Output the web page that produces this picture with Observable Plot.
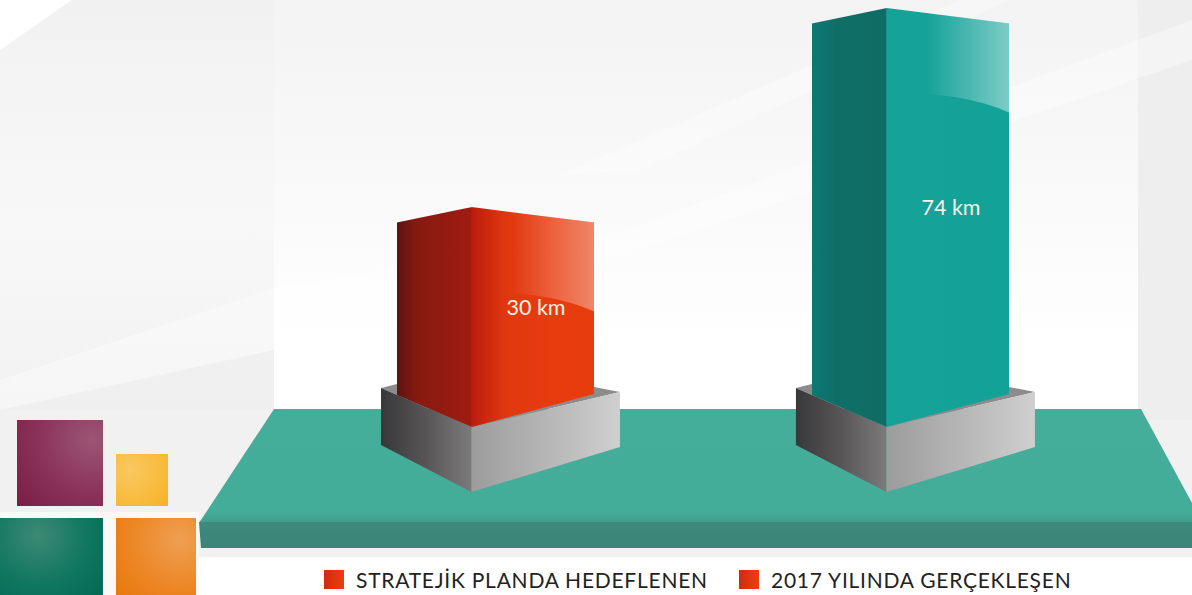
<!DOCTYPE html>
<html lang="tr">
<head>
<meta charset="utf-8">
<script src="https://cdn.jsdelivr.net/npm/d3@7"></script>
<script src="https://cdn.jsdelivr.net/npm/@observablehq/plot@0.6"></script>
<style>
html,body{margin:0;padding:0;background:#fff;overflow:hidden}
#chart{position:relative;width:1192px;height:595px}
#chart svg{display:block}
.legend{position:absolute;top:566px;left:0;height:27px;font:21px Lato,sans-serif;letter-spacing:.75px;color:#222;white-space:nowrap}
.legend span{position:absolute;top:0;line-height:27px}
.legend i{position:absolute;top:4px;width:20px;height:19px;background:linear-gradient(90deg,#d32a10,#ec3f0e)}
</style>
</head>
<body>
<div id="chart"></div>
<script>
const categories = ["STRATEJİK PLANDA HEDEFLENEN", "2017 YILINDA GERÇEKLEŞEN"];
const lengthsKm = [30, 74];
const unit = "km";
const barGradients = ["url(#redFace)", "url(#tealFace)"];
const hiddenBase = -18.6;   // the drawing's bars start below zero, inside the pedestal
const legendPositions = [[324, 356], [739, 771]];

const rows = categories.map((category, i) => ({category, km: lengthsKm[i], label: `${lengthsKm[i]} ${unit}`}));
const FONT = "Lato, sans-serif";

function poly(g, pts, fill, extra = {}) {
  const p = g.append("path").attr("d", "M" + pts.map(d => d.join(",")).join("L") + "Z").attr("fill", fill);
  for (const k in extra) p.attr(k, extra[k]);
  return p;
}
function linear(defs, id, x1, y1, x2, y2, stops) {
  const l = defs.append("linearGradient").attr("id", id).attr("gradientUnits", "userSpaceOnUse")
    .attr("x1", x1).attr("y1", y1).attr("x2", x2).attr("y2", y2);
  stops.forEach(([o, c, a = 1]) => l.append("stop").attr("offset", o).attr("stop-color", c).attr("stop-opacity", a));
}
function radial(defs, id, cx, cy, r, stops) {
  const l = defs.append("radialGradient").attr("id", id).attr("gradientUnits", "userSpaceOnUse")
    .attr("cx", cx).attr("cy", cy).attr("r", r);
  stops.forEach(([o, c]) => l.append("stop").attr("offset", o).attr("stop-color", c));
}

// background, platform and corner squares
function scene(index, scales) {
  const g = d3.create("svg:g");
  const defs = g.append("defs");
  linear(defs, "panel", 0, 0, 0, 409, [[0, "#f3f3f3"], [.45, "#f9f9f9"], [.85, "#ffffff"], [1, "#ffffff"]]);
  linear(defs, "side", 0, 0, 0, 409, [[0, "#f1f1f1"], [.55, "#f8f8f8"], [.95, "#f2f2f2"], [1, "#f1f1f1"]]);
  linear(defs, "plate", 0, 409, 0, 523, [[0, "#45ae9a"], [.9, "#44ad99"], [1, "#3f9e8c"]]);
  linear(defs, "plateFront", 0, 522, 0, 548, [[0, "#3e8a7c"], [1, "#3a8478"]]);
  radial(defs, "sqPurple", 92, 440, 95, [[0, "#9c5674"], [.55, "#8a3459"], [1, "#7b1f47"]]);
  radial(defs, "sqYellow", 130, 470, 62, [[0, "#fac860"], [1, "#f5ae1c"]]);
  radial(defs, "sqGreen", 38, 535, 85, [[0, "#3d8a74"], [.6, "#0f7660"], [1, "#056a56"]]);
  radial(defs, "sqOrange", 180, 540, 85, [[0, "#ef9f52"], [.6, "#ec8522"], [1, "#e8780c"]]);

  g.append("rect").attr("width", 1192).attr("height", 595).attr("fill", "#f1f1f1");
  g.append("rect").attr("width", 274).attr("height", 409).attr("fill", "url(#side)");
  g.append("rect").attr("x", 274).attr("width", 864).attr("height", 409).attr("fill", "url(#panel)");
  g.append("rect").attr("x", 1138).attr("width", 54).attr("height", 420).attr("fill", "#eeeeee");
  // light streaks
  poly(g, [[0, 0], [72, 0], [0, 50]], "#ffffff");
  poly(g, [[0, 380], [274, 288], [620, 232], [1192, 20], [1192, 60], [640, 250], [274, 350], [0, 410]], "#ffffff", {"fill-opacity": .35});
  poly(g, [[0, 410], [274, 350], [274, 409], [0, 409]], "#eeeeee", {"fill-opacity": .6});
  poly(g, [[560, 175], [960, 0], [1010, 0], [640, 170]], "#ffffff", {"fill-opacity": .3});
  // under the platform
  g.append("rect").attr("x", 199).attr("y", 557).attr("width", 993).attr("height", 38).attr("fill", "#ffffff");
  g.append("rect").attr("x", 0).attr("y", 512).attr("width", 199).attr("height", 83).attr("fill", "#fbf9f7");
  // platform
  poly(g, [[274, 409], [1141, 409], [1192, 503], [1192, 523], [199, 523]], "url(#plate)");
  poly(g, [[199, 522], [1192, 522], [1192, 548], [201, 548]], "url(#plateFront)");
  // corner squares
  g.append("rect").attr("x", 17).attr("y", 420).attr("width", 86).attr("height", 86).attr("fill", "url(#sqPurple)");
  g.append("rect").attr("x", 116).attr("y", 454).attr("width", 52).attr("height", 52).attr("fill", "url(#sqYellow)");
  g.append("rect").attr("x", 0).attr("y", 518).attr("width", 103).attr("height", 77).attr("fill", "url(#sqGreen)");
  g.append("rect").attr("x", 116).attr("y", 518).attr("width", 80).attr("height", 77).attr("fill", "url(#sqOrange)");

  // pedestals follow the bars through the x and y scales
  const base = scales.y(hiddenBase);
  categories.forEach((c, i) => {
    const x = scales.x(c);
    const L = x - 16, C = x + 74.5, R = x + 223;
    linear(defs, `pedL${i}`, L, 0, C, 0, [[0, "#38383a"], [.5, "#585556"], [1, "#7c7b7b"]]);
    linear(defs, `pedR${i}`, C, 0, R, 0, [[0, "#9c9c9c"], [1, "#cfcfcf"]]);
    poly(g, [[L, base - 39], [L + 16, base - 43], [R - 26, base - 40], [R, base - 35], [C, base]], "#8d8b8b");
    poly(g, [[L, base - 39], [C, base], [C, base + 65], [L, base + 18]], `url(#pedL${i})`);
    poly(g, [[C, base], [R, base - 35], [R, base + 20], [C, base + 65]], `url(#pedR${i})`);
  });
  return g.node();
}

// each bar keeps its scale-derived rect, clipped to the silhouette of a box
function boxBar(index, scales, values, dimensions, context, next) {
  const node = next(index, scales, values, dimensions, context);
  const sel = d3.select(node);
  const defs = sel.append("defs");
  sel.selectAll("rect").each(function (_, i) {
    const r = d3.select(this);
    const x = +r.attr("x"), y = +r.attr("y"), w = +r.attr("width"), h = +r.attr("height");
    const c = x + 0.38 * w, right = x + w, bottom = y + h;
    const isRed = i === 0;
    const stops = isRed
      ? [[0, "#5c1410"], [.1, "#861a10"], [.375, "#a11b10"], [.38, "#bd1c0e"], [.55, "#df3810"], [.8, "#e93c0e"], [1, "#e63c0e"]]
      : [[0, "#0b7a71"], [.12, "#0f6f67"], [.375, "#0e6c64"], [.38, "#16a298"], [1, "#13a298"]];
    linear(defs, isRed ? "redFace" : "tealFace", x, 0, right, 0, stops);
    const id = `box${i}`;
    defs.append("clipPath").attr("id", id).append("path")
      .attr("d", `M${x},${y + 15.5}L${c},${y}L${right},${y + 15.5}L${right},${bottom - 33}L${c},${bottom}L${x},${bottom - 32}Z`);
    r.attr("clip-path", `url(#${id})`);
    // gloss on the bright face
    const gid = `gloss${i}`;
    linear(defs, gid, c + 0.2 * w, 0, right, 0, [[0, "#ffffff", 0], [1, "#ffffff", isRed ? .38 : .45]]);
    const drop = 89;
    sel.append("path").attr("fill", `url(#${gid})`)
      .attr("d", `M${c},${y}L${right},${y + 15.5}L${right},${y + 15.5 + drop} Q${right - 35},${y + drop} ${c + 0.2 * w},${y + drop - 3}L${c},${y + drop - 3}Z`);
  });
  return node;
}

const plot = Plot.plot({
  width: 1192,
  height: 595,
  marginLeft: 231,
  marginRight: 17,
  marginTop: 0,
  marginBottom: 0,
  style: {background: "transparent", fontFamily: FONT},
  x: {type: "band", domain: categories, paddingInner: 0.525, paddingOuter: 0.4, axis: null, round: false},
  y: {domain: [hiddenBase, 74], range: [427, 8], axis: null},
  color: {type: "ordinal", domain: categories, range: barGradients},
  marks: [
    scene,
    Plot.barY(rows, {x: "category", y1: () => hiddenBase, y2: "km", fill: "category", render: boxBar}),
    Plot.text(rows, {
      x: "category", y: d => (hiddenBase + d.km) / 2, text: "label", dx: 40, dy: -9.5,
      fill: "#fbf3e6", fontSize: 21.5, fontFamily: FONT
    })
  ]
});

const chart = document.getElementById("chart");
chart.append(plot);
const legend = d3.select(chart).append("div").attr("class", "legend");
categories.forEach((c, i) => {
  legend.append("i").style("left", legendPositions[i][0] + "px");
  legend.append("span").style("left", legendPositions[i][1] + "px").text(c);
});
</script>
</body>
</html>
